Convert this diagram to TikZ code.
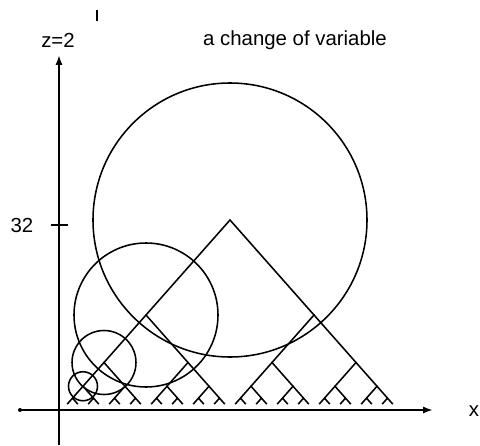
\documentclass[tikz,border=0pt]{standalone}
\usepackage{fontspec}
\setmainfont{Liberation Sans}
\usetikzlibrary{arrows.meta}

\begin{document}
\begin{tikzpicture}[x=0.25mm, y=0.25mm, line width=1.1pt,
    every node/.style={font=\fontsize{14.5pt}{17pt}\selectfont}]

\useasboundingbox (-59,-35) rectangle (421,410);

% --- AXES ---
\coordinate (O)  at (0,0);
\coordinate (Xs) at (-39,0);
\coordinate (Xe) at (374,0);
\coordinate (Ys) at (0,-35);
\coordinate (Ye) at (0,355);
\draw[line width=1.3pt, -{Latex[length=7pt,width=5pt]}] (Xs) -- (Xe);
\draw[line width=1.3pt, -{Latex[length=7pt,width=5pt]}] (Ys) -- (Ye);
\fill (Xs) circle (2);
\draw[line width=1.3pt] (-8,185) -- (9,185);

% Labels
\node (lab32) at (-37,185) {32};
\node (labz)  at (-1,370) {z=2};
\node (labx)  at (415,-1) {x};
\node (title) at (236,370) {a change of variable};
\draw[line width=1.4pt] (38,389) -- (38,400);

% --- BINARY TREE ---
\def\Ax{171} \def\W{168} \def\H{190}
\foreach \k in {0,...,4} {
    \pgfmathtruncatemacro{\nn}{2^\k}
    \pgfmathsetmacro{\hh}{\H/\nn}
    \pgfmathsetmacro{\dd}{\W/(2*\nn)}
    \foreach \j in {1,...,\nn} {
        \pgfmathsetmacro{\xx}{\Ax+\W*(2*\j-1-\nn)/\nn}
        \draw ({\xx-\dd},{\hh/2}) -- (\xx,\hh) -- ({\xx+\dd},{\hh/2});
    }
}

% --- CIRCLES on the left leg ---
\foreach \k/\rad in {0/137,1/72,2/32,3/14.5} {
    \pgfmathsetmacro{\nn}{2^\k}
    \draw ({\Ax-\W*(1-1/\nn)},{\H/\nn}) circle (\rad);
}

\end{tikzpicture}
\end{document}
